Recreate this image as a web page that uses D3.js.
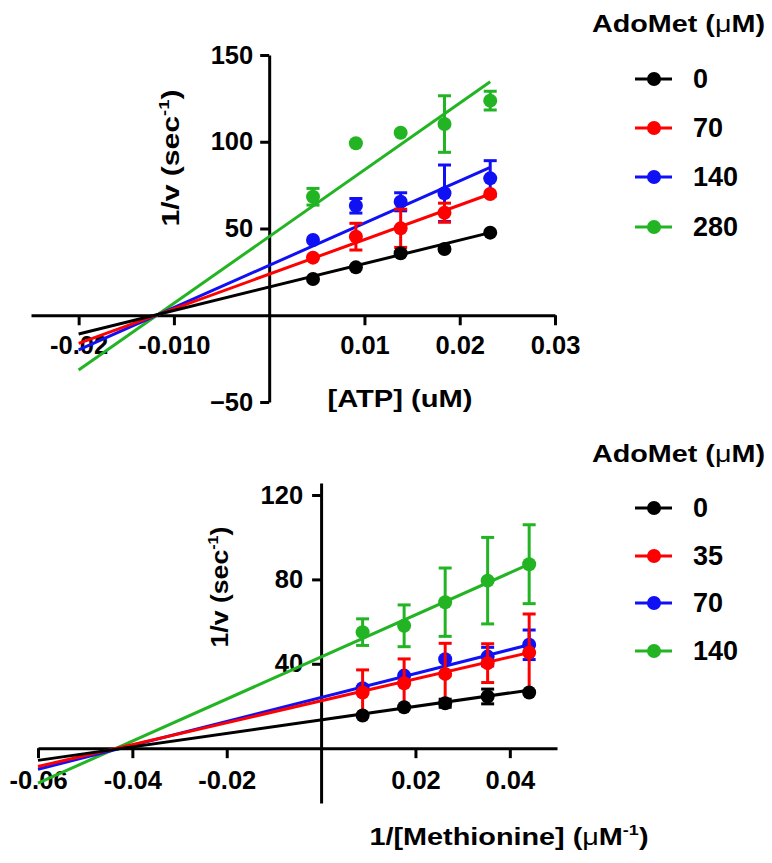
<!DOCTYPE html>
<html>
<head>
<meta charset="utf-8">
<script src="https://cdn.jsdelivr.net/npm/d3@7"></script>
<style>
  body { margin: 0; background: #fff; }
  svg text { font-family: "Liberation Sans", Arial, Helvetica, sans-serif; font-weight: bold; fill: #000; }
</style>
</head>
<body>
<svg id="chart" width="772" height="863"></svg>
<script>
//// Top panel: 1/v vs 1/[ATP]
var atpX = [0.0046, 0.0091, 0.0138, 0.0184, 0.0232];
var atpNames = ["0", "70", "140", "280"];
var atp0 = [20.9, 27.6, 35.7, 38.2, 47.6];
var atp70 = [33.2, 45.3, 50.1, 59.1, 69.9];
var atp140 = [43.4, 63.1, 65.4, 70.3, 78.9];
var atp280 = [68.3, 99.1, 105.2, 110.2, 123.7];
var atp0Err = [0, 0, 0, 0, 0];
var atp70Err = [0, 7.7, 11, 5.5, 0];
var atp140Err = [0, 4.2, 5.2, 16.3, 10.2];
var atp280Err = [4.8, 0, 0, 16.3, 5.4];
// fitted lines, read at both ends
var atpFitX = [-0.02, 0.0232];
var atp0Fit = [-10.8, 47.6];
var atp70Fit = [-16.2, 69.9];
var atp140Fit = [-20.0, 85.3];
var atp280Fit = [-31.6, 134.6];
var atpXTicks = [-0.02, -0.01, 0.01, 0.02, 0.03];
var atpXTickLabels = ["-0.02", "-0.010", "0.01", "0.02", "0.03"];
var atpYTicks = [-50, 50, 100, 150];

//// Bottom panel: 1/v vs 1/[Methionine]
var metX = [0.0088, 0.0176, 0.0263, 0.0353, 0.0441];
var metNames = ["0", "35", "70", "140"];
var met0 = [15.5, 19.4, 21.3, 24.5, 26.4];
var met35 = [26.4, 30.8, 35.2, 40.3, 45.3];
var met70 = [28.4, 34.4, 42.2, 43.4, 49.0];
var met140 = [55.0, 58.0, 69.2, 79.4, 87.2];
var met0Err = [0, 0, 1.9, 3.5, 0];
var met35Err = [10.7, 11.5, 14.5, 9.2, 18.3];
var met70Err = [0, 0, 0, 4.4, 7.0];
var met140Err = [6.3, 9.9, 16.2, 20.5, 18.7];
var metFitX = [-0.06, 0.0441];
var met0Fit = [-5.8, 27.5];
var met35Fit = [-8.7, 45.3];
var met70Fit = [-10.0, 49.0];
var met140Fit = [-16.6, 87.2];
var metXTicks = [-0.06, -0.04, -0.02, 0.02, 0.04];
var metXTickLabels = ["-0.06", "-0.04", "-0.02", "0.02", "0.04"];
var metYTicks = [40, 80, 120];

var COLORS = ["#000000", "#ff0000", "#1010f5", "#22b422"];

var svg = d3.select("#chart");

makePanel({
  xDomain: [-0.025, 0.03], xRange: [31, 555],
  yDomain: [-50, 150], yRange: [402, 55],
  xTicks: atpXTicks, xTickLabels: atpXTickLabels, yTicks: atpYTicks,
  xPad: 11, yPad: 7,
  xs: atpX,
  ys: [atp0, atp70, atp140, atp280],
  errs: [atp0Err, atp70Err, atp140Err, atp280Err],
  fitX: atpFitX,
  fits: [atp0Fit, atp70Fit, atp140Fit, atp280Fit]
});

makePanel({
  xDomain: [-0.06, 0.05], xRange: [38, 557],
  yDomain: [-26, 125.7], yRange: [803, 483],
  xTicks: metXTicks, xTickLabels: metXTickLabels, yTicks: metYTicks,
  xPad: 13, yPad: 9,
  xs: metX,
  ys: [met0, met35, met70, met140],
  errs: [met0Err, met35Err, met70Err, met140Err],
  fitX: metFitX,
  fits: [met0Fit, met35Fit, met70Fit, met140Fit]
});

// axis titles
svg.append("text")
    .attr("x", 400).attr("y", 407)
    .attr("font-size", 24)
    .attr("text-anchor", "middle")
    .attr("textLength", 145).attr("lengthAdjust", "spacingAndGlyphs")
    .text("[ATP] (uM)");

var mt = svg.append("text")
    .attr("x", 509).attr("y", 845)
    .attr("font-size", 24)
    .attr("text-anchor", "middle")
    .attr("textLength", 279).attr("lengthAdjust", "spacingAndGlyphs");
mt.append("tspan").text("1/[Methionine] (");
mt.append("tspan").attr("font-weight", "normal").text("\u03bc");
mt.append("tspan").text("M");
mt.append("tspan").attr("font-size", 15).attr("dy", -10).text("-1");
mt.append("tspan").attr("dy", 10).text(")");

yTitle(171, 158, 137);
yTitle(220, 587, 121);

legend(592, 32, [79, 128, 177, 227], atpNames);
legend(592, 462, [508, 556, 603, 651], metNames);

function yTitle(cx, cy, len) {
  var t = svg.append("text")
      .attr("transform", "translate(" + cx + "," + cy + ") rotate(-90)")
      .attr("font-size", 23)
      .attr("text-anchor", "middle")
      .attr("dy", "0.35em")
      .attr("textLength", len).attr("lengthAdjust", "spacingAndGlyphs");
  t.append("tspan").text("1/v (sec");
  t.append("tspan").attr("font-size", 14).attr("dy", -10).text("-1");
  t.append("tspan").attr("dy", 10).text(")");
}

function legend(x, titleY, rowsY, names) {
  var t = svg.append("text")
      .attr("x", x).attr("y", titleY)
      .attr("font-size", 24)
      .attr("textLength", 173).attr("lengthAdjust", "spacingAndGlyphs");
  t.append("tspan").text("AdoMet (");
  t.append("tspan").attr("font-weight", "normal").text("\u03bc");
  t.append("tspan").text("M)");

  var rows = svg.append("g").selectAll("g")
      .data(names)
    .enter().append("g")
      .attr("transform", function(d, i) { return "translate(0," + rowsY[i] + ")"; });
  rows.append("line")
      .attr("x1", 635).attr("x2", 672)
      .attr("stroke", function(d, i) { return COLORS[i]; })
      .attr("stroke-width", 3);
  rows.append("circle")
      .attr("cx", 654).attr("r", 7)
      .attr("fill", function(d, i) { return COLORS[i]; });
  rows.append("text")
      .attr("x", 693)
      .attr("dy", "0.35em")
      .attr("font-size", 27)
      .text(function(d) { return d; });
}

function makePanel(p) {
  var x = d3.scaleLinear().domain(p.xDomain).range(p.xRange),
      y = d3.scaleLinear().domain(p.yDomain).range(p.yRange);

  var xAxis = d3.axisBottom(x)
      .tickValues(p.xTicks)
      .tickFormat(function(d, i) { return p.xTickLabels[i]; })
      .tickSize(10).tickSizeOuter(0).tickPadding(p.xPad);
  var yAxis = d3.axisLeft(y)
      .tickValues(p.yTicks)
      .tickSize(9).tickSizeOuter(0).tickPadding(p.yPad);

  var gx = svg.append("g")
      .attr("transform", "translate(0," + y(0) + ")")
      .call(xAxis);
  var gy = svg.append("g")
      .attr("transform", "translate(" + x(0) + ",0)")
      .call(yAxis);
  [gx, gy].forEach(function(g) {
    g.attr("font-size", 25.5).attr("font-family", null);
    g.select(".domain").attr("stroke-width", 3);
    g.selectAll(".tick line").attr("stroke-width", 3);
  });

  var lineFunc = d3.line()
      .x(function(d) { return x(d[0]); })
      .y(function(d) { return y(d[1]); });

  // draw highest series first, black ends up on top
  for (var s = p.ys.length - 1; s >= 0; s--) {
    var color = COLORS[s];
    var g = svg.append("g");
    g.append("path")
        .attr("d", lineFunc(d3.zip(p.fitX, p.fits[s])))
        .attr("stroke", color)
        .attr("stroke-width", 3)
        .attr("fill", "none");

    var pts = p.xs.map(function(v, i) { return {x: v, y: p.ys[s][i], e: p.errs[s][i]}; });

    var bars = g.selectAll(".err")
        .data(pts.filter(function(d) { return d.e > 0; }))
      .enter().append("g")
        .attr("class", "err")
        .attr("stroke", color)
        .attr("stroke-width", 3);
    bars.append("line")
        .attr("x1", function(d) { return x(d.x); })
        .attr("x2", function(d) { return x(d.x); })
        .attr("y1", function(d) { return y(d.y - d.e); })
        .attr("y2", function(d) { return y(d.y + d.e); });
    bars.append("line")
        .attr("x1", function(d) { return x(d.x) - 6.5; })
        .attr("x2", function(d) { return x(d.x) + 6.5; })
        .attr("y1", function(d) { return y(d.y + d.e); })
        .attr("y2", function(d) { return y(d.y + d.e); });
    bars.append("line")
        .attr("x1", function(d) { return x(d.x) - 6.5; })
        .attr("x2", function(d) { return x(d.x) + 6.5; })
        .attr("y1", function(d) { return y(d.y - d.e); })
        .attr("y2", function(d) { return y(d.y - d.e); });

    g.selectAll(".dot")
        .data(pts)
      .enter().append("circle")
        .attr("class", "dot")
        .attr("r", 7)
        .attr("cx", function(d) { return x(d.x); })
        .attr("cy", function(d) { return y(d.y); })
        .attr("fill", color);
  }
}
</script>
</body>
</html>
